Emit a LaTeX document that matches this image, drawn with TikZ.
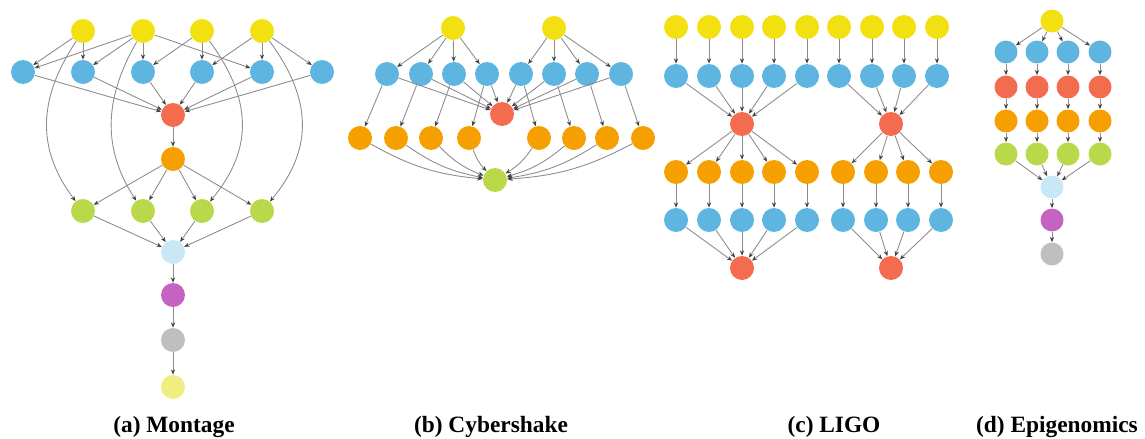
\documentclass[tikz,border=0pt]{standalone}
\usepackage{fontspec}
\setmainfont{Liberation Serif}
\usepackage{tikz}
\usetikzlibrary{arrows.meta}

\definecolor{jobyellow}{RGB}{242,224,17}
\definecolor{jobblue}{RGB}{94,182,224}
\definecolor{jobred}{RGB}{244,108,80}
\definecolor{joborange}{RGB}{245,160,0}
\definecolor{jobgreen}{RGB}{186,217,74}
\definecolor{joblightblue}{RGB}{200,232,246}
\definecolor{jobpurple}{RGB}{197,99,194}
\definecolor{jobgray}{RGB}{192,190,190}
\definecolor{joblightyellow}{RGB}{240,238,128}

\tikzset{
	job/.style={circle, minimum size=0.48cm, inner sep=0pt},
	smalljob/.style={job, minimum size=0.46cm},
	dep/.style={draw=black!45, line width=0.5pt, -{Stealth[length=3pt,width=2.4pt,color=black!75]}},
	caption/.style={anchor=base, font=\bfseries\fontsize{13.3}{15}\selectfont}
}

\begin{document}
\begin{tikzpicture}[x=0.02cm,y=-0.02cm]
		\useasboundingbox (0,0) rectangle (1145,439);
		
		% (a) Montage
		\foreach \i/\x in {1/83,2/143,3/202,4/262} \node[job,fill=jobyellow] (my\i) at (\x,31) {};
		\foreach \i/\x in {1/23,2/83,3/143,4/202,5/262,6/322} \node[job,fill=jobblue] (mb\i) at (\x,72) {};
		\node[job,fill=jobred] (mr) at (173,115) {};
		\node[job,fill=joborange] (mo) at (173,159) {};
		\foreach \i/\x in {1/83,2/143,3/202,4/262} \node[job,fill=jobgreen] (mg\i) at (\x,211) {};
		\node[job,fill=joblightblue] (mi) at (173,252) {};
		\node[job,fill=jobpurple] (ma) at (173,295) {};
		\node[job,fill=jobgray] (ms) at (173,340) {};
		\node[job,fill=joblightyellow] (mj) at (173,387) {};
		
		\foreach \a/\b in {my1/mb1,my1/mb2,my2/mb1,my2/mb2,my2/mb3,my2/mb5,my3/mb3,my3/mb4,my4/mb4,my4/mb5,my4/mb6}
			\draw[dep] (\a) -- (\b);
		\foreach \i in {1,...,6} \draw[dep] (mb\i) -- (mr);
		\draw[dep] (mr) -- (mo);
		\foreach \i in {1,...,4} {
			\draw[dep] (mo) -- (mg\i);
			\draw[dep] (mg\i) -- (mi);
		}
		\draw[dep] (my1) .. controls (37,100) and (37,150) .. (mg1);
		\draw[dep] (my2) .. controls (103,100) and (103,150) .. (mg2);
		\draw[dep] (my3) .. controls (253,100) and (253,150) .. (mg3);
		\draw[dep] (my4) .. controls (313,100) and (313,150) .. (mg4);
		\draw[dep] (mi) -- (ma);
		\draw[dep] (ma) -- (ms);
		\draw[dep] (ms) -- (mj);
		
		% (b) Cybershake
		\node[job,fill=jobyellow] (cy1) at (453,28) {};
		\node[job,fill=jobyellow] (cy2) at (554,28) {};
		\foreach \i/\x in {1/387,2/421,3/454,4/487,5/521,6/554,7/587,8/621} \node[job,fill=jobblue] (cb\i) at (\x,74) {};
		\node[job,fill=jobred] (cr) at (502,114) {};
		\foreach \i/\x in {1/360,2/396,3/431,4/469,5/539,6/574,7/607,8/643} \node[job,fill=joborange] (co\i) at (\x,138) {};
		\node[job,fill=jobgreen] (cg) at (495,180) {};
		
		\foreach \i in {1,...,4} \draw[dep] (cy1) -- (cb\i);
		\foreach \i in {5,...,8} \draw[dep] (cy2) -- (cb\i);
		\foreach \i in {1,...,8} {
			\draw[dep] (cb\i) -- (cr);
			\draw[dep] (cb\i) -- (co\i);
		}
		\foreach \i in {1,...,4} \draw[dep] (co\i) to[bend right=12] (cg);
		\foreach \i in {5,...,8} \draw[dep] (co\i) to[bend left=12] (cg);
		
		% (c) LIGO
		\foreach \i/\x in {1/676,2/709,3/742,4/774,5/807,6/839,7/872,8/904,9/937} {
			\node[job,fill=jobyellow] (ly\i) at (\x,27) {};
			\node[job,fill=jobblue] (lb\i) at (\x,76) {};
			\draw[dep] (ly\i) -- (lb\i);
		}
		\node[job,fill=jobred] (lr1) at (742,124) {};
		\node[job,fill=jobred] (lr2) at (891,124) {};
		\foreach \i/\x in {1/676,2/709,3/742,4/774,5/807,6/843,7/876,8/908,9/941} {
			\node[job,fill=joborange] (lo\i) at (\x,172) {};
			\node[job,fill=jobblue] (lc\i) at (\x,220) {};
			\draw[dep] (lo\i) -- (lc\i);
		}
		\node[job,fill=jobred] (lf1) at (742,268) {};
		\node[job,fill=jobred] (lf2) at (891,268) {};
		
		\foreach \i in {1,...,5} {
			\draw[dep] (lb\i) -- (lr1);
			\draw[dep] (lr1) -- (lo\i);
			\draw[dep] (lc\i) -- (lf1);
		}
		\foreach \i in {6,...,9} {
			\draw[dep] (lb\i) -- (lr2);
			\draw[dep] (lr2) -- (lo\i);
			\draw[dep] (lc\i) -- (lf2);
		}
		
		% (d) Epigenomics
		\node[smalljob,fill=jobyellow] (ey) at (1052,21) {};
		\foreach \i/\x in {1/1006,2/1037,3/1068,4/1100} {
			\node[smalljob,fill=jobblue] (eb\i) at (\x,52) {};
			\node[smalljob,fill=jobred] (er\i) at (\x,87) {};
			\node[smalljob,fill=joborange] (eo\i) at (\x,121) {};
			\node[smalljob,fill=jobgreen] (eg\i) at (\x,154) {};
		}
		\node[smalljob,fill=joblightblue] (ei) at (1052,187) {};
		\node[smalljob,fill=jobpurple] (ep) at (1052,220) {};
		\node[smalljob,fill=jobgray] (es) at (1052,254) {};
		
		\foreach \i in {1,...,4} {
			\draw[dep] (ey) -- (eb\i);
			\draw[dep] (eb\i) -- (er\i);
			\draw[dep] (er\i) -- (eo\i);
			\draw[dep] (eo\i) -- (eg\i);
			\draw[dep] (eg\i) -- (ei);
		}
		\draw[dep] (ei) -- (ep);
		\draw[dep] (ep) -- (es);
		
		% captions
		\node[caption] (capa) at (174,432) {(a) Montage};
		\node[caption] (capb) at (491,432) {(b) Cybershake};
		\node[caption] (capc) at (834,432) {(c) LIGO};
		\node[caption] (capd) at (1057,432) {(d) Epigenomics};
		
\end{tikzpicture}
\end{document}
